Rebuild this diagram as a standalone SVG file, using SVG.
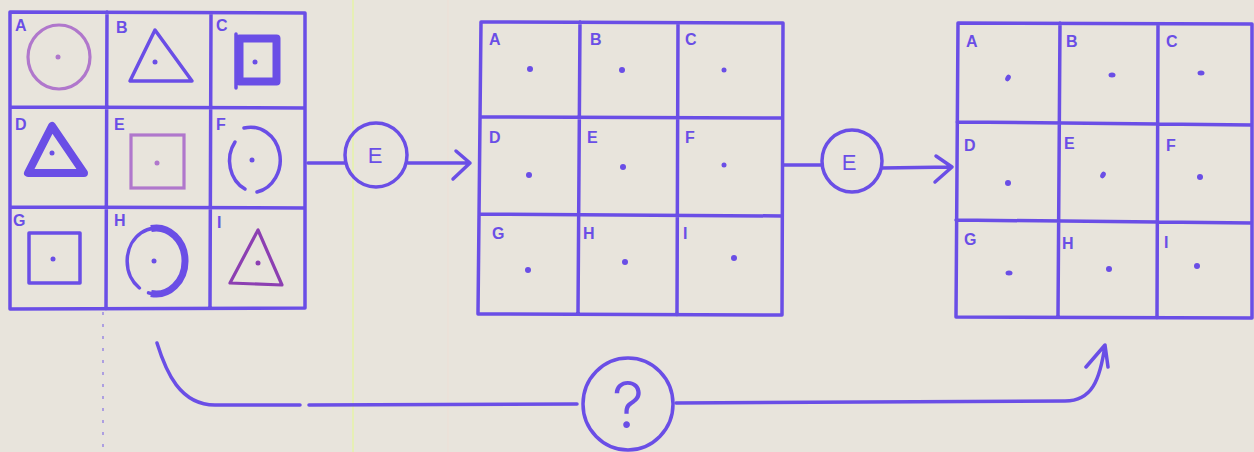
<svg xmlns="http://www.w3.org/2000/svg" width="1254" height="452" viewBox="0 0 1254 452">
<style>
.ln{fill:none;stroke:#6a4ee6;stroke-width:3.5;stroke-linecap:round;stroke-linejoin:round}
.th{fill:none;stroke:#6a4ee6;stroke-width:8;stroke-linejoin:round}
.pk{fill:none;stroke:#b077cc;stroke-width:3.2}
.dk{fill:none;stroke:#8c3fb2;stroke-width:3.2;stroke-linejoin:round}
.dot{fill:#6a4ee6}
.lbl{font-family:"Liberation Sans",Arial,sans-serif;font-weight:bold;font-size:16px;fill:#6a4ee6}
.op{font-family:"Liberation Sans",Arial,sans-serif;font-size:22px;fill:#6a4ee6;text-anchor:middle}
.big{font-family:Inter,"Liberation Sans",Arial,sans-serif;font-weight:300;font-size:64px;fill:#6a4ee6;text-anchor:middle}
</style>
<rect width="1254" height="452" fill="#e8e4dc"/>
<line x1="353" y1="0" x2="353" y2="452" stroke="#e6f3a8" stroke-width="1.5"/>
<line x1="448" y1="0" x2="448" y2="452" stroke="#eedfd6" stroke-width="1"/>
<line x1="103" y1="312" x2="103" y2="452" stroke="#7a62e6" stroke-width="1.5" stroke-dasharray="3 9" opacity="0.7"/>

<g id="grid1">
<path class="ln" d="M10 12 L305 13 L305 308 L10 309 Z M107 12 L106 309 M211 13 L210 308 M10 107 L305 108 M10 207 L305 208"/>
<text class="lbl" x="15" y="31">A</text>
<text class="lbl" x="116" y="33">B</text>
<text class="lbl" x="216" y="31">C</text>
<text class="lbl" x="15" y="130">D</text>
<text class="lbl" x="114" y="130">E</text>
<text class="lbl" x="216" y="130">F</text>
<text class="lbl" x="13" y="226">G</text>
<text class="lbl" x="114" y="226">H</text>
<text class="lbl" x="217" y="228">I</text>
<ellipse class="pk" cx="59" cy="57" rx="31" ry="32"/>
<circle cx="58" cy="57" r="2.5" fill="#b077cc"/>
<polygon class="ln" points="155,30 130,81 192,81"/>
<circle class="dot" cx="155" cy="62" r="2.5"/>
<rect class="th" x="239.5" y="38.5" width="37" height="43"/>
<line class="ln" x1="236" y1="34" x2="236" y2="88"/>
<circle class="dot" cx="255" cy="62" r="2.5"/>
<polygon class="th" points="52,126 28,173 84,173"/>
<circle class="dot" cx="52" cy="153" r="2.5"/>
<rect class="pk" x="131" y="135" width="53" height="53"/>
<circle cx="157" cy="163" r="2.5" fill="#b077cc"/>
<path class="ln" d="M244 128 A29 32 0 1 1 257 192"/>
<path class="ln" d="M235 142 A29 32 0 0 0 245 189"/>
<circle class="dot" cx="252" cy="160" r="2.5"/>
<rect class="ln" x="29" y="233" width="51" height="50"/>
<circle class="dot" cx="53" cy="259" r="2.5"/>
<path class="ln" d="M139.4 288 A29 33 0 1 1 148.5 292.9"/>
<path fill="none" stroke="#6a4ee6" stroke-width="7" d="M151 228.5 A29 33 0 1 1 151 293.5"/>
<circle class="dot" cx="154" cy="261" r="2.5"/>
<polygon class="dk" points="258,230 230,283 282,285"/>
<circle cx="258" cy="263" r="2.5" fill="#8c3fb2"/>
</g>

<g id="op1">
<ellipse class="ln" cx="376" cy="155" rx="31" ry="32"/>
<text class="op" x="375" y="163">E</text>
</g>

<g id="grid2">
<path class="ln" d="M481 22 L783 23 L782 315 L478 314 Z M580 22 L578 314 M678 23 L677 315 M480 117 L782 118 M479 214 L782 216"/>
<text class="lbl" x="489" y="45">A</text>
<text class="lbl" x="590" y="45">B</text>
<text class="lbl" x="685" y="45">C</text>
<text class="lbl" x="489" y="143">D</text>
<text class="lbl" x="587" y="143">E</text>
<text class="lbl" x="685" y="143">F</text>
<text class="lbl" x="492" y="239">G</text>
<text class="lbl" x="583" y="239">H</text>
<text class="lbl" x="683" y="239">I</text>
<circle class="dot" cx="530" cy="69" r="3"/>
<circle class="dot" cx="622" cy="70" r="3"/>
<circle class="dot" cx="724" cy="70" r="2.5"/>
<circle class="dot" cx="529" cy="175" r="3"/>
<circle class="dot" cx="623" cy="167" r="3"/>
<circle class="dot" cx="724" cy="165" r="2.5"/>
<circle class="dot" cx="528" cy="270" r="3"/>
<circle class="dot" cx="625" cy="262" r="3"/>
<circle class="dot" cx="734" cy="258" r="3"/>
</g>

<g id="op2">
<ellipse class="ln" cx="852" cy="161" rx="30" ry="31"/>
<text class="op" x="849" y="170">E</text>
</g>

<g id="grid3">
<path class="ln" d="M958 23 L1252 24 L1252 318 L956 317 Z M1060 23 L1058 317 M1158 24 L1157 318 M957 122 L1252 125 M956 220 L1252 223"/>
<text class="lbl" x="966" y="47">A</text>
<text class="lbl" x="1066" y="47">B</text>
<text class="lbl" x="1166" y="47">C</text>
<text class="lbl" x="964" y="151">D</text>
<text class="lbl" x="1064" y="149">E</text>
<text class="lbl" x="1166" y="151">F</text>
<text class="lbl" x="964" y="245">G</text>
<text class="lbl" x="1062" y="249">H</text>
<text class="lbl" x="1164" y="248">I</text>
<ellipse class="dot" cx="1008" cy="78" rx="2.5" ry="3.5" transform="rotate(30 1008 78)"/>
<ellipse class="dot" cx="1112" cy="75" rx="3.5" ry="2.5"/>
<ellipse class="dot" cx="1201" cy="73" rx="3.5" ry="2.5"/>
<circle class="dot" cx="1008" cy="183" r="3"/>
<ellipse class="dot" cx="1103" cy="175" rx="2.5" ry="3.5" transform="rotate(30 1103 175)"/>
<circle class="dot" cx="1200" cy="177" r="3"/>
<ellipse class="dot" cx="1009" cy="273" rx="3.5" ry="2.5"/>
<circle class="dot" cx="1109" cy="269" r="3"/>
<circle class="dot" cx="1197" cy="266" r="3"/>
</g>

<g id="opq">
<ellipse class="ln" cx="628" cy="404" rx="45" ry="46"/>
<text class="big" x="628" y="428">?</text>
</g>

<g id="connectors">
<path class="ln" d="M308 163 L345 163 M408 163 L470 163 M456 151 L470 163 L453 179"/>
<path class="ln" d="M784 165 L822 165 M882 168 L952 167 M936 156 L952 167 L935 182"/>
<path class="ln" d="M157 343 C166 372 180 405 215 405 L300 405 M309 405 L577 404"/>
<path class="ln" d="M676 403 L1065 401 C1092 401 1100 380 1105 345 M1086 367 L1105 345 L1108 367"/>
</g>
</svg>
